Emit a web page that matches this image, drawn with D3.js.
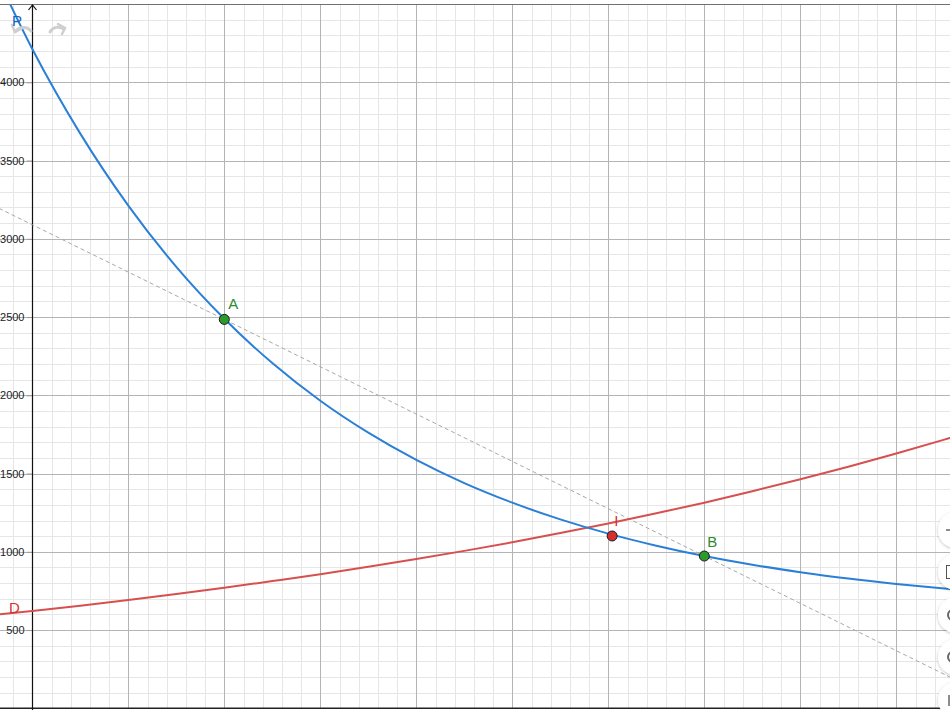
<!DOCTYPE html>
<html><head><meta charset="utf-8">
<script src="https://cdn.jsdelivr.net/npm/d3@7"></script>
<style>
html,body{margin:0;padding:0;background:#fff;}
svg{display:block;font-family:"Liberation Sans",Arial,Helvetica,sans-serif;}
</style></head>
<body>
<svg id="chart" width="950" height="710"></svg>
<script>
// ---- data ----
const sampleX = [-0.5,0,0.5,1,1.5,2,2.5,3,3.5,4,4.5,5,5.5,6,6.5,7,7.5,8,8.5,9,9.5,10];
const curveP  = [4850,4213,3672,3212,2821,2489,2206,1965,1761,1587,1439,1314,1207,1116,1039,973,917,870,829,795,766,741];
const curveD  = [590,622,656,692,730,770,813,857,904,954,1006,1061,1120,1181,1246,1314,1387,1463,1543,1628,1717,1811];
const yTickLabels = [500,1000,1500,2000,2500,3000,3500,4000];
const pointNames = ["A","B","I"];
const pointX = [2, 7, 6.04];
const pointY = [2485, 973, 1101];
const curveNames = ["P","D"];

// ---- scales ----
const W = 950, H = 710;
const x = d3.scaleLinear().domain([0, 10]).range([32.3, 992.3]);
const y = d3.scaleLinear().domain([0, 4000]).range([708.3, 82.3]);
const svg = d3.select("#chart");

const plotTop = 5, plotBottom = 708.3;
svg.append("defs").append("clipPath").attr("id","clip")
  .append("rect").attr("x",0).attr("y",plotTop).attr("width",W).attr("height",plotBottom-plotTop);

const grid = svg.append("g").attr("clip-path","url(#clip)");
// minor grid
const xMinor = d3.range(-1, 10.01, 0.2).filter(v => Math.abs(v - Math.round(v)) > 1e-6);
const yMinor = d3.range(0, 4601, 100).filter(v => v % 500 !== 0);
grid.selectAll(".vx").data(xMinor).join("line")
  .attr("x1", d => Math.round(x(d))+0.5).attr("x2", d => Math.round(x(d))+0.5)
  .attr("y1", 0).attr("y2", H).attr("stroke","#e6e6e6").attr("stroke-width",1);
grid.selectAll(".hy").data(yMinor).join("line")
  .attr("y1", d => Math.round(y(d))+0.5).attr("y2", d => Math.round(y(d))+0.5)
  .attr("x1", 0).attr("x2", W).attr("stroke","#e6e6e6").attr("stroke-width",1);
// major grid
const xMajor = d3.range(-1, 11, 1).filter(v => v !== 0);
const yMajor = d3.range(500, 4600, 500);
grid.selectAll(".VX").data(xMajor).join("line")
  .attr("x1", d => Math.round(x(d))+0.5).attr("x2", d => Math.round(x(d))+0.5)
  .attr("y1", 0).attr("y2", H).attr("stroke","#b3b3b8").attr("stroke-width",1);
grid.selectAll(".HY").data(yMajor).join("line")
  .attr("y1", d => Math.round(y(d))+0.5).attr("y2", d => Math.round(y(d))+0.5)
  .attr("x1", 0).attr("x2", W).attr("stroke","#b3b3b8").attr("stroke-width",1);

// top border
svg.append("line").attr("x1",0).attr("x2",W).attr("y1",4.5).attr("y2",4.5)
  .attr("stroke","#707070").attr("stroke-width",1);

// x axis (bottom)
svg.append("line").attr("x1",0).attr("x2",W).attr("y1",y(0)).attr("y2",y(0))
  .attr("stroke","#222").attr("stroke-width",1.5);

// y axis
const yAxis = d3.axisLeft(y).tickValues(yTickLabels).tickSize(6).tickPadding(2).tickFormat(d3.format("d"));
const ya = svg.append("g").attr("transform", `translate(${Math.round(x(0))+0.5},0)`).call(yAxis);
ya.select(".domain").remove();
ya.selectAll(".tick line").attr("stroke","#999").attr("stroke-width",1);
ya.selectAll(".tick text").attr("fill","#222").style("font-size","11px")
  .style("font-family","'Liberation Sans',Arial,sans-serif");
const ax = Math.round(x(0))+0.5;
svg.append("line").attr("x1",ax).attr("x2",ax).attr("y1",5).attr("y2",H)
  .attr("stroke","#111").attr("stroke-width",1.2);
svg.append("path").attr("d",`M${ax-4},10 L${ax},5 L${ax+4},10`)
  .attr("fill","none").attr("stroke","#111").attr("stroke-width",1.2);

const curves = svg.append("g").attr("clip-path","url(#clip)");
// secant line through A and B (dashed)
const slope = (pointY[1]-pointY[0])/(pointX[1]-pointX[0]);
const secX = [-1, 11];
curves.append("path")
  .datum(secX.map(v => [v, pointY[0] + slope*(v - pointX[0])]))
  .attr("d", d3.line().x(d => x(d[0])).y(d => y(d[1])))
  .attr("fill","none").attr("stroke","#a8a8a8").attr("stroke-width",1).attr("stroke-dasharray","4,3");

const lineGen = d3.line().x(d => x(d[0])).y(d => y(d[1])).curve(d3.curveMonotoneX);
curves.append("path").datum(sampleX.map((v,i)=>[v,curveD[i]])).attr("d", lineGen)
  .attr("fill","none").attr("stroke","#d65050").attr("stroke-width",2);
curves.append("path").datum(sampleX.map((v,i)=>[v,curveP[i]])).attr("d", lineGen)
  .attr("fill","none").attr("stroke","#2a7fd6").attr("stroke-width",2);

// undo / redo icons
const icons = svg.append("g").attr("fill","none").attr("stroke","#cfcfcf").attr("stroke-width",3).attr("stroke-linecap","round");
icons.append("path").attr("d","M16,31 A9,8 0 0 1 31,31");
icons.append("path").attr("d","M12,25 L15,32 L21,29").attr("stroke-width",2.5);
icons.append("path").attr("d","M50,32 A9,8 0 0 1 64,29");
icons.append("path").attr("d","M58,24 L65,28 L62,34").attr("stroke-width",2.5);

// curve labels
const labelColors = {P:"#1565c0", D:"#d32f2f"};
svg.selectAll(".clab").data(curveNames).join("text")
  .attr("x", d => d==="P" ? 12 : 9).attr("y", d => d==="P" ? 26 : 613)
  .attr("fill", d => labelColors[d]).style("font-size","15px").text(d => d);

// points
const pFill = {A:"#2e9a2e", B:"#2e9a2e", I:"#d32f2f"};
const pts = svg.append("g");
pts.selectAll("circle").data(pointNames).join("circle")
  .attr("cx", (d,i) => x(pointX[i])).attr("cy", (d,i) => y(pointY[i])).attr("r",5)
  .attr("fill", d => pFill[d]).attr("stroke","#1a1a1a").attr("stroke-width",1);
const lblOff = {A:[4,-10], B:[3,-9], I:[2,-10]};
const lblCol = {A:"#2e8b2e", B:"#2e8b2e", I:"#d32f2f"};
pts.selectAll("text").data(pointNames).join("text")
  .attr("x", (d,i) => x(pointX[i]) + lblOff[d][0]).attr("y", (d,i) => y(pointY[i]) + lblOff[d][1])
  .attr("fill", d => lblCol[d]).style("font-size","15px").text(d => d);

// right-side round buttons (partially visible)
const btnY = [530, 572, 615, 657, 700];
const defs = svg.select("defs");
const f = defs.append("filter").attr("id","sh").attr("x","-50%").attr("y","-50%").attr("width","200%").attr("height","200%");
f.append("feDropShadow").attr("dx",0).attr("dy",1).attr("stdDeviation",1.5).attr("flood-color","#000").attr("flood-opacity",0.25);
const btns = svg.append("g");
btns.selectAll("circle").data(btnY).join("circle")
  .attr("cx",956).attr("cy",d=>d).attr("r",18).attr("fill","#fff").attr("filter","url(#sh)");
btns.append("rect").attr("x",946.5).attr("y",565.5).attr("width",8).attr("height",13).attr("fill","none").attr("stroke","#555");
btns.selectAll(".g").data([615,657]).join("path").attr("d",d=>`M953,${d-5} A5,5 0 0 0 953,${d+5}`)
  .attr("fill","none").attr("stroke","#666").attr("stroke-width",2);
btns.append("path").attr("d","M946,530 L951,530").attr("stroke","#666").attr("stroke-width",1.5);
btns.append("path").attr("d","M949,695 L949,706").attr("stroke","#666").attr("stroke-width",1.5);
</script>
</body></html>
